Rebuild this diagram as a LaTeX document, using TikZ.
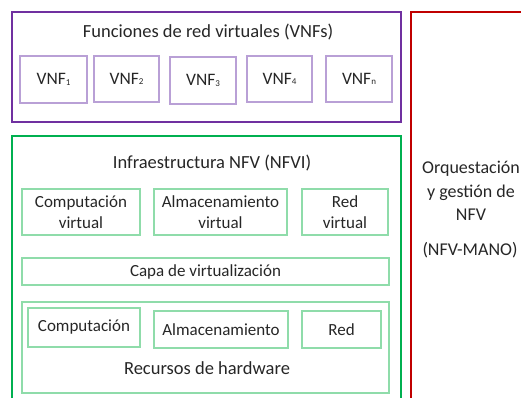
\documentclass[tikz,border=0pt]{standalone}
\usepackage{fontspec}
\setmainfont{Carlito}
\definecolor{vpurple}{HTML}{7030A0}
\definecolor{lpurple}{HTML}{B9A0D6}
\definecolor{vgreen}{HTML}{00B050}
\definecolor{lgreen}{HTML}{8FDCAA}
\definecolor{vred}{HTML}{C00000}
\definecolor{txt}{HTML}{262626}
\newcommand{\sub}[1]{\raisebox{-0.5pt}{\fontsize{9}{9}\selectfont #1}}
\begin{document}
\begin{tikzpicture}[x=1pt,y=-1pt,
  font=\fontsize{17}{21}\selectfont, text=txt,
  outer/.style={line width=2pt},
  vbox/.style={draw=lpurple,line width=1.3pt,inner sep=0pt,anchor=center,font=\fontsize{17.5}{21}\selectfont},
  gbox/.style={draw=lgreen,line width=1.3pt,inner sep=0pt,anchor=center,align=center},
  lbl/.style={inner sep=0pt,anchor=center,align=center},
  title/.style={lbl,font=\fontsize{18.5}{22}\selectfont}]
\useasboundingbox (0,0) rectangle (521,398);
\clip (0,0) rectangle (521,398);
% outer frames
\draw[outer,vpurple] (12,12) rectangle (401,122);
\draw[outer,vgreen] (12,136) rectangle (401,420);
\draw[outer,vred] (411,12) rectangle (540,420);
% VNFs
\node[title] (vnft) at (208,32) {Funciones de red virtuales (VNFs)};
\node[vbox,minimum width=67pt,minimum height=47pt] (v1) at (53.5,79.5) {VNF\sub{1}};
\node[vbox,minimum width=65pt,minimum height=46pt] (v2) at (126.5,79) {VNF\sub{2}};
\node[vbox,minimum width=66pt,minimum height=47pt] (v3) at (203,80.5) {VNF\sub{3}};
\node[vbox,minimum width=65pt,minimum height=46pt] (v4) at (279.5,79) {VNF\sub{4}};
\node[vbox,minimum width=66pt,minimum height=46pt] (vn) at (359,79) {VNF\sub{n}};
% NFVI
\node[title] (nfvi) at (212,163) {Infraestructura NFV (NFVI)};
\node[gbox,minimum width=118pt,minimum height=46pt] (cv) at (81,212) {Computación\\virtual};
\node[gbox,minimum width=133pt,minimum height=46pt] (av) at (220.5,212) {Almacenamiento\\virtual};
\node[gbox,minimum width=86pt,minimum height=46pt] (rv) at (345,212) {Red\\virtual};
\node[gbox,minimum width=367pt,minimum height=27pt] (capa) at (205.5,271.5) {Capa de virtualización};
\node[gbox,minimum width=367pt,minimum height=91pt] (hw) at (205.5,347.5) {};
\node[gbox,minimum width=112pt,minimum height=39pt] (comp) at (84,327.5) {Computación};
\node[gbox,minimum width=134pt,minimum height=37pt] (alm) at (221,329.5) {Almacenamiento};
\node[gbox,minimum width=79pt,minimum height=37pt] (red) at (341.5,329.5) {Red};
\node[title] (rhw) at (207,368) {Recursos de hardware};
% MANO
\node[lbl,font=\fontsize{18}{23.5}\selectfont] (mano) at (471,191) {Orquestación\\y gestión de\\NFV};
\node[lbl,font=\fontsize{18}{22}\selectfont] (manoab) at (470,250) {(NFV-MANO)};
\end{tikzpicture}
\end{document}
